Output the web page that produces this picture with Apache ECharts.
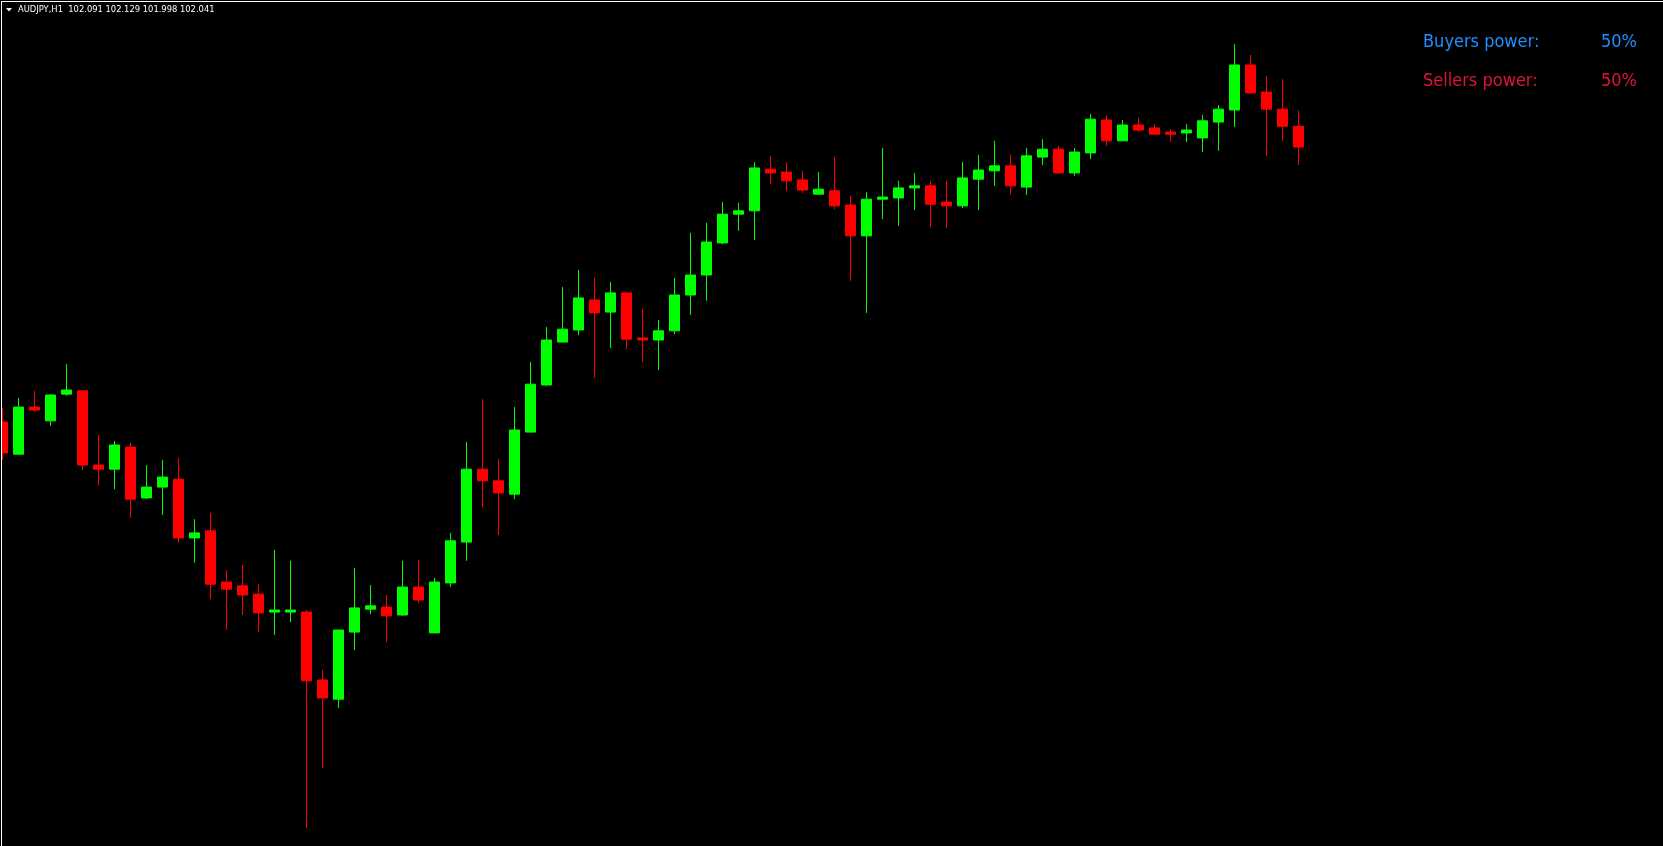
<!DOCTYPE html>
<html>
<head>
<meta charset="utf-8">
<script src="https://cdn.jsdelivr.net/npm/echarts@6/dist/echarts.min.js"></script>
<style>
html,body{margin:0;padding:0;background:#000;overflow:hidden;width:1663px;height:846px;position:relative;}
#chart{position:absolute;left:-16px;top:0;width:1679px;height:846px;}
</style>
</head>
<body>
<div id="chart"></div>
<script>
// Symbol / header values
const symbolLabel = 'AUDJPY,H1';
const lastBar = { open: '102.091', high: '102.129', low: '101.998', close: '102.041' };

// Power panel
const powerLabels = ['Buyers power:', 'Sellers power:'];
const powerValues = ['50%', '50%'];
const powerColors = ['#1E90FF', '#DC143C'];

// Candles: [open, close, low, high]
const candles = [
  [101.381, 101.307, 101.290, 101.415],
  [101.304, 101.417, 101.304, 101.439],
  [101.417, 101.410, 101.405, 101.456],
  [101.384, 101.446, 101.372, 101.448],
  [101.448, 101.458, 101.444, 101.520],
  [101.456, 101.278, 101.266, 101.456],
  [101.278, 101.268, 101.228, 101.350],
  [101.268, 101.326, 101.220, 101.336],
  [101.321, 101.196, 101.151, 101.331],
  [101.199, 101.225, 101.196, 101.278],
  [101.225, 101.249, 101.158, 101.290],
  [101.244, 101.103, 101.091, 101.295],
  [101.103, 101.115, 101.043, 101.148],
  [101.120, 100.992, 100.956, 101.163],
  [100.997, 100.980, 100.882, 101.026],
  [100.988, 100.966, 100.918, 101.038],
  [100.968, 100.923, 100.877, 100.992],
  [100.925, 100.930, 100.870, 101.074],
  [100.925, 100.930, 100.901, 101.048],
  [100.925, 100.760, 100.407, 100.930],
  [100.762, 100.719, 100.551, 100.786],
  [100.716, 100.882, 100.695, 100.882],
  [100.877, 100.935, 100.834, 101.031],
  [100.932, 100.940, 100.920, 100.990],
  [100.937, 100.916, 100.853, 100.966],
  [100.918, 100.985, 100.916, 101.048],
  [100.985, 100.954, 100.947, 101.050],
  [100.875, 100.997, 100.875, 101.007],
  [100.995, 101.096, 100.985, 101.115],
  [101.093, 101.268, 101.048, 101.333],
  [101.268, 101.240, 101.177, 101.436],
  [101.240, 101.211, 101.110, 101.292],
  [101.208, 101.362, 101.196, 101.417],
  [101.357, 101.472, 101.357, 101.525],
  [101.470, 101.578, 101.468, 101.609],
  [101.573, 101.604, 101.573, 101.705],
  [101.602, 101.679, 101.590, 101.746],
  [101.674, 101.643, 101.487, 101.727],
  [101.645, 101.691, 101.559, 101.717],
  [101.691, 101.580, 101.556, 101.691],
  [101.583, 101.578, 101.525, 101.652],
  [101.578, 101.600, 101.506, 101.626],
  [101.600, 101.686, 101.592, 101.727],
  [101.686, 101.734, 101.638, 101.835],
  [101.734, 101.813, 101.672, 101.859],
  [101.811, 101.880, 101.808, 101.909],
  [101.880, 101.888, 101.840, 101.907],
  [101.888, 101.991, 101.818, 102.005],
  [101.988, 101.979, 101.952, 102.020],
  [101.981, 101.960, 101.936, 102.005],
  [101.962, 101.938, 101.931, 101.984],
  [101.928, 101.940, 101.928, 101.981],
  [101.936, 101.900, 101.892, 102.017],
  [101.902, 101.828, 101.720, 101.924],
  [101.828, 101.916, 101.643, 101.933],
  [101.916, 101.921, 101.868, 102.039],
  [101.919, 101.943, 101.852, 101.960],
  [101.943, 101.948, 101.890, 101.979],
  [101.948, 101.904, 101.849, 101.960],
  [101.909, 101.900, 101.847, 101.960],
  [101.900, 101.967, 101.895, 102.005],
  [101.964, 101.986, 101.890, 102.022],
  [101.984, 101.996, 101.948, 102.056],
  [101.996, 101.948, 101.928, 102.024],
  [101.945, 102.020, 101.926, 102.039],
  [102.017, 102.036, 101.998, 102.060],
  [102.036, 101.979, 101.976, 102.044],
  [101.979, 102.029, 101.972, 102.039],
  [102.027, 102.108, 102.012, 102.120],
  [102.106, 102.056, 102.044, 102.118],
  [102.056, 102.094, 102.056, 102.106],
  [102.094, 102.082, 102.077, 102.111],
  [102.087, 102.072, 102.070, 102.096],
  [102.077, 102.072, 102.053, 102.084],
  [102.075, 102.082, 102.053, 102.096],
  [102.063, 102.104, 102.029, 102.118],
  [102.101, 102.132, 102.032, 102.142],
  [102.130, 102.238, 102.089, 102.288],
  [102.238, 102.171, 102.168, 102.262],
  [102.173, 102.132, 102.020, 102.212],
  [102.132, 102.091, 102.056, 102.204],
  [102.091, 102.041, 101.998, 102.129]
];

// Bar slots on the time axis (82 bars plus empty space to the right)
const slotCount = 104;
const categories = Array.from({ length: slotCount }, (_, i) => 'H' + (i + 1));

// Price window of the chart
const priceMax = 102.394;
const priceMin = 100.3636;

const chart = echarts.init(document.getElementById('chart'), null, { renderer: 'canvas' });

const sx = 16; // the chart canvas starts 16px left of the page
const headerText = symbolLabel + '  ' + [lastBar.open, lastBar.high, lastBar.low, lastBar.close].join(' ');
const fontCond = "'DejaVu Sans Condensed', 'DejaVu Sans', sans-serif";

const graphics = [
  { type: 'rect', shape: { x: sx + 1, y: 1, width: 1, height: 845 }, style: { fill: '#ffffff' }, z: 10 },
  { type: 'rect', shape: { x: sx + 1, y: 1, width: 1662, height: 1 }, style: { fill: '#ffffff' }, z: 10 },
  { type: 'rect', shape: { x: 0, y: 0, width: sx + 1, height: 846 }, style: { fill: '#000000' }, z: 9 },
  { type: 'polygon', shape: { points: [[sx + 6, 8], [sx + 12, 8], [sx + 9, 11.5]] }, style: { fill: '#ffffff' }, z: 10 },
  { type: 'text', x: sx + 18, y: 9.5, style: { text: headerText, fill: '#ffffff', font: '9.3px ' + fontCond, textAlign: 'left', textVerticalAlign: 'middle' }, z: 10 }
];
const rowY = [42, 81];
powerLabels.forEach((lab, i) => {
  graphics.push({ type: 'text', x: sx + 1423, y: rowY[i], style: { text: lab, fill: powerColors[i], font: '18px ' + fontCond, textAlign: 'left', textVerticalAlign: 'middle' }, z: 10 });
  graphics.push({ type: 'text', x: sx + 1637, y: rowY[i], style: { text: powerValues[i], fill: powerColors[i], font: '18px ' + fontCond, textAlign: 'right', textVerticalAlign: 'middle' }, z: 10 });
});

chart.setOption({
  backgroundColor: '#000000',
  animation: false,
  grid: { left: sx - 5.5, top: 0, width: 16 * slotCount, height: 846, outerBoundsMode: 'none' },
  xAxis: {
    type: 'category',
    data: categories,
    show: false,
    boundaryGap: true
  },
  yAxis: {
    type: 'value',
    min: priceMin,
    max: priceMax,
    show: false,
    scale: true
  },
  graphic: graphics,
  series: [{
    type: 'candlestick',
    data: candles,
    barWidth: 10,
    clip: true,
    itemStyle: {
      color: '#00FF00',
      color0: '#FF0000',
      borderColor: '#00FF00',
      borderColor0: '#FF0000',
      borderWidth: 1
    },
    emphasis: { disabled: true }
  }]
});
</script>
</body>
</html>
